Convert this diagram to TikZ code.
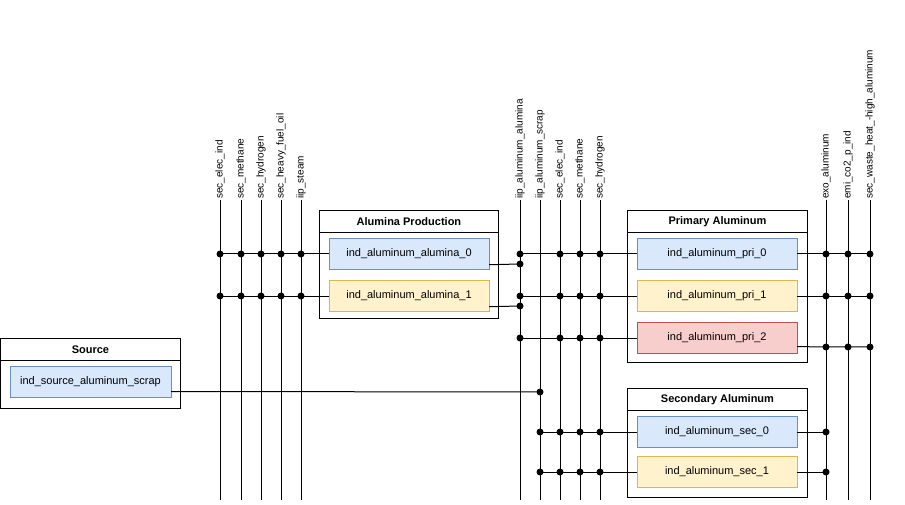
\documentclass[tikz,border=0pt]{standalone}
\usepackage{fontspec}
\setmainfont{Liberation Sans}
\usetikzlibrary{positioning,calc}
\definecolor{bluefill}{HTML}{DAE8FC}\definecolor{bluedraw}{HTML}{6C8EBF}
\definecolor{yelfill}{HTML}{FFF2CC}\definecolor{yeldraw}{HTML}{D6B656}
\definecolor{redfill}{HTML}{F8CECC}\definecolor{reddraw}{HTML}{B85450}
\tikzstyle{group} = [rectangle, draw=black, fill=white, anchor=north west, line width=0.9pt]
\tikzstyle{header} = [rectangle, draw=black, anchor=north west, font=\bfseries\fontsize{11}{12}\selectfont, inner sep=0pt, line width=0.9pt]
\tikzstyle{tech} = [rectangle, minimum width=160pt, minimum height=31pt, text centered, font=\fontsize{11}{12}\selectfont, inner sep=0pt]
\tikzstyle{blue} = [tech, draw=bluedraw, fill=bluefill]
\tikzstyle{yellow} = [tech, draw=yeldraw, fill=yelfill]
\tikzstyle{red} = [tech, draw=reddraw, fill=redfill]
\tikzstyle{buslabel} = [rotate=90, anchor=west, font=\fontsize{10}{11}\selectfont, inner sep=1pt]
\tikzstyle{dot} = [circle, fill=black, inner sep=0pt, minimum size=7pt]
\tikzstyle{wire} = [line width=1pt]
\begin{document}
\begin{tikzpicture}[x=1pt,y=-1pt]
    \useasboundingbox (0,0) rectangle (905,505);

    % groups
    \node (alu) [group, minimum width=179pt, minimum height=108pt] at (319,210) {};
    \node [header, minimum width=179pt, minimum height=22pt] at (319,210) {Alumina Production};
    \node (pri) [group, minimum width=180pt, minimum height=152pt] at (627,210) {};
    \node [header, minimum width=180pt, minimum height=22pt] at (627,210) {Primary Aluminum};
    \node (sec) [group, minimum width=180pt, minimum height=109pt] at (627,388) {};
    \node [header, minimum width=180pt, minimum height=22pt] at (627,388) {Secondary Aluminum};
    \node (src) [group, minimum width=180pt, minimum height=70pt] at (0,338) {};
    \node [header, minimum width=180pt, minimum height=22pt] at (0,338) {Source};

    % technologies
    \node (alu0) [blue] at (409,254) {ind\_aluminum\_alumina\_0};
    \node (alu1) [yellow] at (409,296) {ind\_aluminum\_alumina\_1};
    \node (pri0) [blue] at (717,254) {ind\_aluminum\_pri\_0};
    \node (pri1) [yellow] at (717,296) {ind\_aluminum\_pri\_1};
    \node (pri2) [red] at (717,338) {ind\_aluminum\_pri\_2};
    \node (sec0) [blue] at (717,432) {ind\_aluminum\_sec\_0};
    \node (sec1) [yellow] at (717,472) {ind\_aluminum\_sec\_1};
    \node (srcs) [blue, minimum width=161pt] at (90.5,381.5) {ind\_source\_aluminum\_scrap};

    % buses
    \foreach \x/\name/\txt in {220/b1/sec\_elec\_ind, 241/b2/sec\_methane, 261/b3/sec\_hydrogen,
        281/b4/sec\_heavy\_fuel\_oil, 301/b5/iip\_steam, 520/m1/iip\_aluminum\_alumina,
        540/m2/iip\_aluminum\_scrap, 560/m3/sec\_elec\_ind, 580/m4/sec\_methane, 600/m5/sec\_hydrogen,
        826/r1/exo\_aluminum, 848/r2/emi\_co2\_p\_ind, 870/r3/sec\_waste\_heat\_-high\_aluminum}{
        \coordinate (\name t) at (\x,200);
        \coordinate (\name b) at (\x,500);
        \node [buslabel] at (\name t) {\txt};
        \draw [wire] (\name t) -- (\name b);
    }

    % left inputs
    \draw [wire] (b1t |- alu0.west) -- (alu0.west);
    \draw [wire] (b1t |- alu1.west) -- (alu1.west);
    \foreach \b in {b1,b2,b3,b4,b5}{
        \node [dot] at (\b t |- alu0.west) {};
        \node [dot] at (\b t |- alu1.west) {};
    }

    % alumina outputs
    \draw [wire] (alu0.south east) ++(0,-5) -- (m1t |- {(0,264)}) node [dot] {};
    \draw [wire] (alu1.south east) ++(0,-5) -- (m1t |- {(0,306)}) node [dot] {};

    % primary inputs
    \foreach \p in {pri0,pri1,pri2}{
        \draw [wire] (m1t |- \p.west) -- (\p.west);
        \foreach \b in {m1,m3,m4,m5} \node [dot] at (\b t |- \p.west) {};
    }
    % secondary inputs
    \foreach \p in {sec0,sec1}{
        \draw [wire] (m2t |- \p.west) -- (\p.west);
        \foreach \b in {m2,m3,m4,m5} \node [dot] at (\b t |- \p.west) {};
        \draw [wire] (\p.east) -- (r1t |- \p.east) node [dot] {};
    }
    % scrap
    \draw [wire] ($(srcs.east)+(0,10)$) -- (m2t |- {(0,392)}) node [dot] {};

    % primary outputs
    \draw [wire] (pri0.east) -- (r3t |- pri0.east);
    \draw [wire] (pri1.east) -- (r3t |- pri1.east);
    \draw [wire] (pri2.south east) ++(0,-7) -- (r3t |- {(0,347)});
    \foreach \b in {r1,r2,r3}{
        \node [dot] at (\b t |- pri0.east) {};
        \node [dot] at (\b t |- pri1.east) {};
        \node [dot] at (\b t |- {(0,347)}) {};
    }
\end{tikzpicture}
\end{document}
